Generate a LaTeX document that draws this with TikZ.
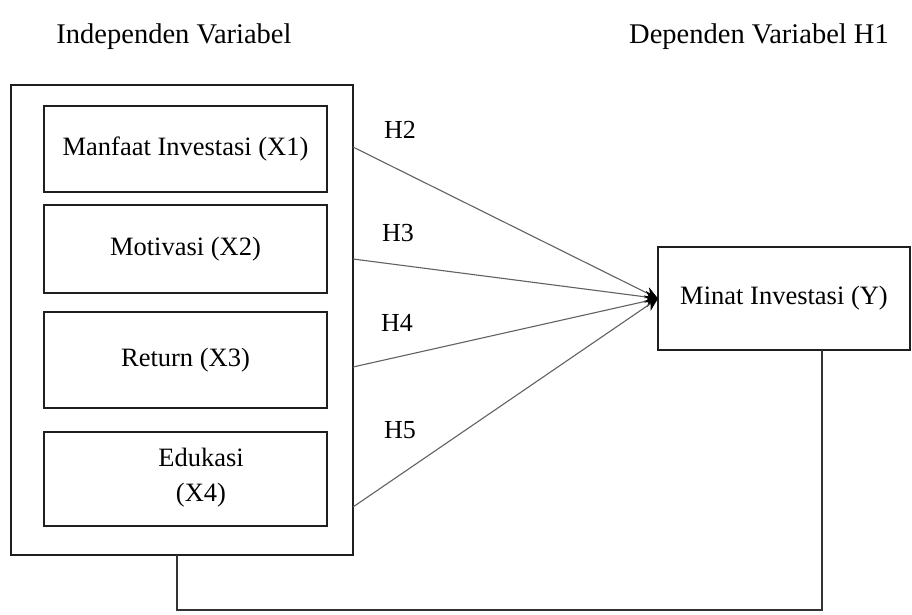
\documentclass[tikz,border=0pt]{standalone}
\usepackage{fontspec}
\setmainfont{Liberation Serif}
\usetikzlibrary{arrows.meta}
\begin{document}
\begin{tikzpicture}[x=1pt,y=-1pt,
  boxst/.style={draw=black!88,line width=1.8pt,inner sep=0pt,outer sep=0pt,align=center,font=\fontsize{26.5}{35}\selectfont},
  txt/.style={inner sep=0pt,align=center,font=\fontsize{26.5}{35}\selectfont},
  title/.style={inner sep=0pt,font=\fontsize{28.5}{32}\selectfont},
  lab/.style={inner sep=0pt,font=\fontsize{26}{30}\selectfont},
  conn/.style={draw=black!62,line width=1.1pt},
  arr/.style={conn,-{Stealth[length=13pt,width=12pt,color=black]}},
  link/.style={draw=black!80,line width=1.5pt}]
\useasboundingbox (0,0) rectangle (912,614);
% titles
\node[title] (t1) at (174,37) {Independen Variabel};
\node[title] (t2) at (759,37) {Dependen Variabel H1};
% outer box
\node[boxst,minimum width=342pt,minimum height=470pt] (outer) at (182,320) {};
% inner boxes
\node[boxst,minimum width=283pt,minimum height=86pt] (x1) at (185.5,149) {Manfaat Investasi (X1)};
\node[boxst,minimum width=283pt,minimum height=88pt] (x2) at (185.5,249) {Motivasi (X2)};
\node[boxst,minimum width=283pt,minimum height=96pt] (x3) at (185.5,360) {Return (X3)};
\node[boxst,minimum width=283pt,minimum height=94pt] (x4) at (185.5,479) {};
\node[txt] (x4t) at (201,478) {Edukasi\\(X4)};
% dependent box
\node[boxst,minimum width=252pt,minimum height=103pt] (Y) at (784,298.5) {Minat Investasi (Y)};
% start points on outer box
\coordinate (s2) at (353,147);
\coordinate (s3) at (353,259);
\coordinate (s4) at (353,367);
\coordinate (s5) at (353,507);
\draw[arr] (s2) -- (Y.west);
\draw[arr] (s3) -- (Y.west);
\draw[arr] (s4) -- (Y.west);
\draw[arr] (s5) -- (Y.west);
% labels
\node[lab] (h2) at (400,130) {H2};
\node[lab] (h3) at (398,233) {H3};
\node[lab] (h4) at (397,323) {H4};
\node[lab] (h5) at (400,430) {H5};
% bottom link
\coordinate (b1) at (177,555);
\coordinate (b2) at (822,610);
\draw[link] (b1) |- (b2) -- (Y.south -| b2);
\end{tikzpicture}
\end{document}
